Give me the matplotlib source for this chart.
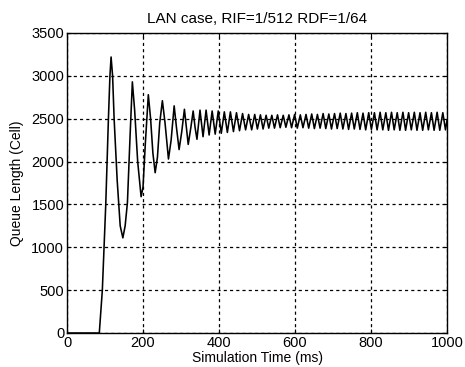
import matplotlib
matplotlib.use("Agg")
import matplotlib.pyplot as plt

plt.rcParams['font.family'] = ['Liberation Sans', 'DejaVu Sans']

title = "LAN case, RIF=1/512 RDF=1/64"
xlabel = "Simulation Time (ms)"
ylabel = "Queue Length (Cell)"
xticks = [0, 200, 400, 600, 800, 1000]
yticks = [0, 500, 1000, 1500, 2000, 2500, 3000, 3500]

# transient part (time ms, queue cells)
t_start = [0, 85, 93, 102, 109, 113, 116, 120, 124, 132, 140, 147, 153, 159, 166,
           172, 178, 186, 195, 200, 206, 214, 220, 226, 232, 238, 244, 251, 258,
           267, 274, 282, 288, 295, 302, 309, 314, 319, 326, 332, 337, 342]
q_start = [0, 0, 500, 1500, 2500, 3000, 3220, 3000, 2500, 1785, 1250, 1110, 1250,
           1520, 2300, 2930, 2600, 2000, 1590, 1700, 2200, 2780, 2500, 2100, 1870,
           2050, 2450, 2710, 2450, 2030, 2250, 2650, 2400, 2140, 2350, 2610, 2400,
           2200, 2400, 2590, 2400, 2260]

# steady oscillation (alternating peaks / troughs)
t_steady = [350, 358, 366, 374, 382, 390, 398, 406, 414, 422, 430, 438, 446, 454,
            462, 470, 478, 486, 494, 501, 509, 516, 524, 531, 539, 546, 554, 561,
            569, 576, 584, 591, 599, 606, 614, 621, 629, 636, 644, 651, 659, 666,
            674, 681, 689, 696, 704, 711, 719, 726, 734, 741, 749, 756, 764, 771,
            779, 786, 794, 801, 809, 816, 824, 831, 839, 846, 854, 861, 869, 876,
            884, 891, 899, 906, 914, 921, 929, 936, 944, 951, 959, 966, 974, 981,
            989, 996, 1000]
q_steady = [2600, 2290, 2600, 2310, 2590, 2320, 2590, 2330, 2580, 2340, 2580, 2350,
            2570, 2360, 2560, 2370, 2550, 2370, 2550, 2380, 2545, 2380, 2540, 2390,
            2540, 2390, 2545, 2395, 2540, 2400, 2545, 2395, 2550, 2390, 2545, 2395,
            2550, 2390, 2555, 2385, 2550, 2390, 2560, 2385, 2555, 2380, 2560, 2385,
            2565, 2380, 2560, 2375, 2565, 2380, 2570, 2375, 2565, 2370, 2570, 2375,
            2570, 2370, 2575, 2370, 2570, 2365, 2575, 2370, 2570, 2365, 2575, 2365,
            2570, 2370, 2575, 2365, 2570, 2365, 2575, 2370, 2570, 2365, 2575, 2365,
            2570, 2370, 2480]

t = t_start + t_steady
q = q_start + q_steady

fig = plt.figure(figsize=(4.65, 3.67), dpi=100)
ax = fig.add_axes([67/465, 34/367, 380/465, 300/367])
ax.plot(t, q, color='black', lw=1.15)
ax.set_xlim(0, 1000)
ax.set_ylim(0, 3500)
ax.set_xticks(xticks)
ax.set_yticks(yticks)
ax.grid(True, color='black', linestyle=(0, (2.5, 2.5)), linewidth=0.9)
ax.tick_params(direction='in', length=3, labelsize=10.5, top=True, right=True, pad=2)
for s in ax.spines.values():
    s.set_linewidth(1.0)
ax.set_title(title, fontsize=11, pad=7)
ax.set_xlabel(xlabel, fontsize=10, labelpad=1)
ax.set_ylabel(ylabel, fontsize=10, labelpad=5)
fig.savefig("out.png", dpi=100)
